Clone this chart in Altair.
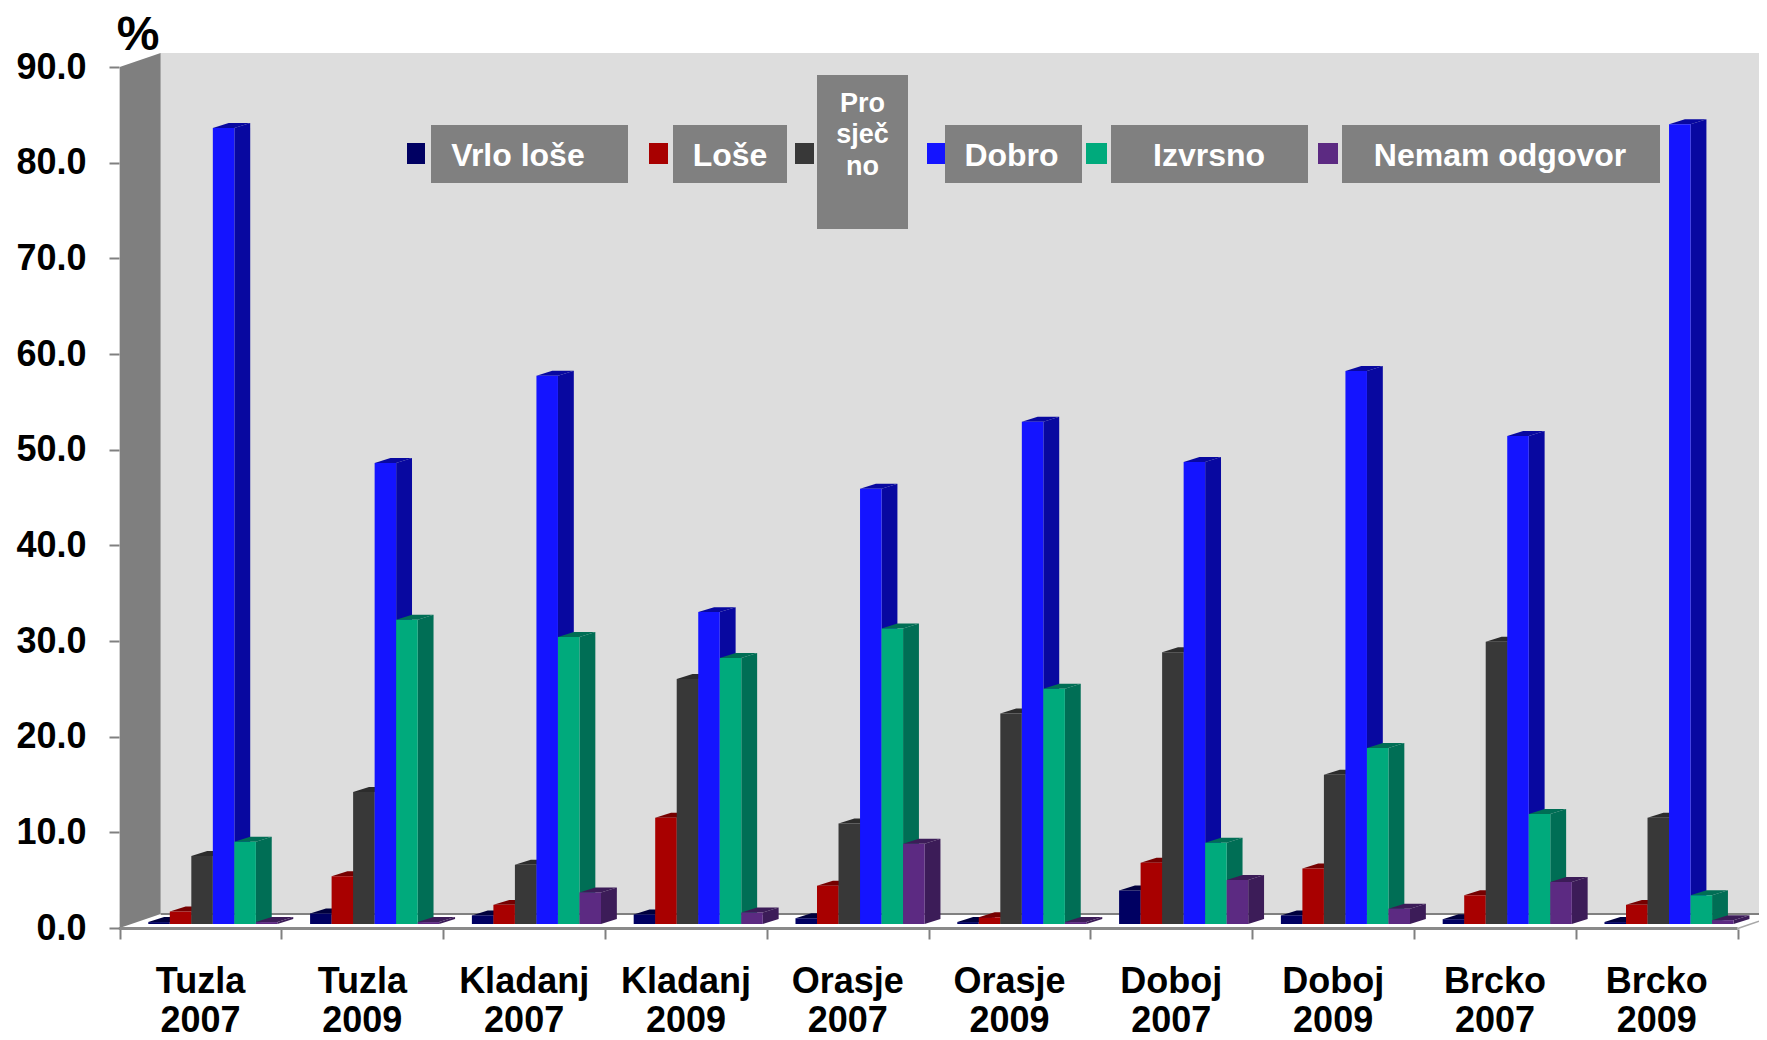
import altair as alt
import pandas as pd

# ---- chart values ----
PLACES = ["Tuzla", "Tuzla", "Kladanj", "Kladanj", "Orasje", "Orasje", "Doboj", "Doboj", "Brcko", "Brcko"]
YEARS = ["2007", "2009", "2007", "2009", "2007", "2009", "2007", "2009", "2007", "2009"]
SERIES = ["Vrlo loše", "Loše", "Prosječno", "Dobro", "Izvrsno", "Nemam odgovor"]

vrlo_lose = [0.2, 1.1, 0.9, 1.0, 0.6, 0.2, 3.5, 0.9, 0.5, 0.2]
lose = [1.3, 5.0, 2.0, 11.1, 4.0, 0.7, 6.4, 5.8, 3.0, 2.0]
prosjecno = [7.1, 13.8, 6.2, 25.6, 10.5, 22.0, 28.4, 15.6, 29.5, 11.1]
dobro = [83.2, 48.2, 57.3, 32.6, 45.5, 52.5, 48.3, 57.8, 51.0, 83.6]
izvrsno = [8.6, 31.8, 30.0, 27.8, 30.9, 24.6, 8.5, 18.4, 11.5, 3.0]
nemam = [0.2, 0.2, 3.3, 1.2, 8.4, 0.2, 4.6, 1.6, 4.4, 0.4]
VALUES = [vrlo_lose, lose, prosjecno, dobro, izvrsno, nemam]

Y_TICKS = [0, 10, 20, 30, 40, 50, 60, 70, 80, 90]
X_TICKS = list(range(11))

# ---- styles ----
FRONT = ["#000062", "#A80000", "#383838", "#1414FF", "#00AA7C", "#5C2A82"]
SIDE = ["#00003E", "#760000", "#2C2C2C", "#0808A0", "#006E55", "#3C1C58"]
GRAY = "#808080"
WALL = "#DDDDDD"
FONT = "Liberation Sans"

# ---- layout (x in group units, y in value units) ----
X_DOM = [-0.69, 10.132]
Y_DOM = [-11.707, 96.17]
W, H = 1751, 1032
OFFS, BAR_W, DEPTH_X, DEPTH_Y, BASE = 0.177, 0.133, 0.098, 0.52, 0.42
WALL_X, WALL_Y = 0.2534, 1.46


def px(v):
    return v - 8


front, side, top = [], [], []
for s, vals in enumerate(VALUES):
    for g, v in enumerate(vals):
        x0 = g + OFFS + s * BAR_W
        x1 = x0 + BAR_W
        y0 = BASE
        y1 = BASE + v
        bar = f"{g}-{s}"
        front.append(dict(x=x0, x2=x1, y=y1, y2=y0, fill=FRONT[s]))
        side += [
            dict(bar=bar, x=x1, y=y1, y2=y0, fill=SIDE[s]),
            dict(bar=bar, x=x1 + DEPTH_X, y=y1 + DEPTH_Y, y2=y0 + DEPTH_Y, fill=SIDE[s]),
        ]
        top += [
            dict(bar=bar, x=x0, y=y1, y2=y1, fill=SIDE[s]),
            dict(bar=bar, x=x0 + DEPTH_X, y=y1 + DEPTH_Y, y2=y1, fill=SIDE[s]),
            dict(bar=bar, x=x1, y=y1 + DEPTH_Y, y2=y1, fill=SIDE[s]),
            dict(bar=bar, x=x1 + DEPTH_X, y=y1 + DEPTH_Y, y2=y1 + DEPTH_Y, fill=SIDE[s]),
        ]

xs = alt.Scale(domain=X_DOM, nice=False, zero=False)
ys = alt.Scale(domain=Y_DOM, nice=False, zero=False)
X = alt.X("x:Q", scale=xs, title=None,
          axis=alt.Axis(values=X_TICKS, labels=False, domain=False, grid=False, tickSize=10,
                        tickWidth=2, tickColor=GRAY, offset=-111))
Y = alt.Y("y:Q", scale=ys, title=None, stack=None,
          axis=alt.Axis(values=Y_TICKS, format=".1f", domain=False, grid=False, tickSize=10,
                        tickWidth=2, tickColor=GRAY, offset=-111, labelPadding=23,
                        labelFont=FONT, labelFontSize=36, labelFontWeight="bold", labelColor="#000000"))
FILL = alt.Color("fill:N", scale=None, legend=None)

back_wall = alt.Chart(pd.DataFrame([dict(x=WALL_X, x2=X_DOM[1], y=90 + WALL_Y, y2=WALL_Y)])).mark_rect(color=WALL).encode(
    x=X, x2="x2:Q", y=Y, y2="y2:Q")
left_wall = alt.Chart(pd.DataFrame([
    dict(x=0, y=90, y2=0),
    dict(x=WALL_X, y=90 + WALL_Y, y2=WALL_Y),
])).mark_area(color="#7F7F7F", orient="vertical").encode(x=X, y=Y, y2="y2:Q")

back_line = alt.Chart(pd.DataFrame([dict(x=WALL_X, x2=X_DOM[1], y=WALL_Y)])).mark_rule(color=GRAY, strokeWidth=2).encode(
    x=X, x2="x2:Q", y=Y)
base_line = alt.Chart(pd.DataFrame([dict(x=-0.005, x2=10.0, y=-0.05)])).mark_rule(color="#8A8A8A", strokeWidth=3).encode(
    x=X, x2="x2:Q", y=Y)
corner_line = alt.Chart(pd.DataFrame([dict(x=10.0, y=-0.05), dict(x=X_DOM[1], y=0.7)])).mark_line(
    color="#A8A8A8", strokeWidth=1.5).encode(x=X, y=Y)

sides = alt.Chart(pd.DataFrame(side)).mark_area(orient="vertical").encode(x=X, y=Y, y2="y2:Q", color=FILL, detail="bar:N")
tops = alt.Chart(pd.DataFrame(top)).mark_area(orient="vertical").encode(x=X, y=Y, y2="y2:Q", color=FILL, detail="bar:N")
fronts = alt.Chart(pd.DataFrame(front)).mark_rect().encode(x=X, x2="x2:Q", y=Y, y2="y2:Q", color=FILL)

PIX_X = alt.X("px:Q", scale=None)
PIX_Y = alt.Y("py:Q", scale=None)
PIX_X2 = alt.X2("px2:Q")
PIX_Y2 = alt.Y2("py2:Q")

# legend layout, in page pixels
BOXES = [(431, 628, 125, 183), (673, 787, 125, 183), (817, 908, 75, 229),
         (945, 1082, 125, 183), (1111, 1308, 125, 183), (1342, 1660, 125, 183)]
SWATCHES = [(407, 425), (649, 668), (795, 814), (927, 945), (1086, 1107), (1318, 1338)]
TEXT_C = [518, 730, 862.5, 1011.5, 1209, 1500]

box_df = pd.DataFrame([dict(px=px(a), px2=px(b), py=px(c), py2=px(d)) for a, b, c, d in BOXES])
boxes = alt.Chart(box_df).mark_rect(color=GRAY).encode(x=PIX_X, x2=PIX_X2, y=PIX_Y, y2=PIX_Y2)
sw_df = pd.DataFrame([dict(px=px(a), px2=px(b), py=px(143), py2=px(164), fill=FRONT[i])
                      for i, (a, b) in enumerate(SWATCHES)])
swatches = alt.Chart(sw_df).mark_rect().encode(x=PIX_X, x2=PIX_X2, y=PIX_Y, y2=PIX_Y2, color=FILL)

leg_rows = []
for i, name in enumerate(SERIES):
    if name == "Prosječno":
        continue
    leg_rows.append(dict(px=px(TEXT_C[i]), py=px(166), t=name))
leg_text = alt.Chart(pd.DataFrame(leg_rows)).mark_text(
    font=FONT, fontSize=32, fontWeight="bold", color="#FFFFFF", align="center", baseline="alphabetic"
).encode(x=PIX_X, y=PIX_Y, text="t:N")

pro_rows = [dict(px=px(TEXT_C[2]), py=px(b), t=t) for t, b in zip(["Pro", "sječ", "no"], [112, 143, 175])]
pro_text = alt.Chart(pd.DataFrame(pro_rows)).mark_text(
    font=FONT, fontSize=27, fontWeight="bold", color="#FFFFFF", align="center", baseline="alphabetic"
).encode(x=PIX_X, y=PIX_Y, text="t:N")

cat_rows = []
for g, (p, yr) in enumerate(zip(PLACES, YEARS)):
    cat_rows.append(dict(x=g + 0.5, py=px(993), t=p))
    cat_rows.append(dict(x=g + 0.5, py=px(1032), t=yr))
cat_text = alt.Chart(pd.DataFrame(cat_rows)).mark_text(
    font=FONT, fontSize=36, fontWeight="bold", color="#000000", align="center", baseline="alphabetic"
).encode(x=alt.X("x:Q", scale=xs), y=PIX_Y, text="t:N")

pct = alt.Chart(pd.DataFrame([dict(px=px(138), py=px(50), t="%")])).mark_text(
    font=FONT, fontSize=48, fontWeight="bold", color="#000000", align="center", baseline="alphabetic"
).encode(x=PIX_X, y=PIX_Y, text="t:N")

chart = alt.layer(
    back_wall, left_wall, back_line, base_line, corner_line,
    sides, tops, fronts,
    boxes, swatches, leg_text, pro_text, cat_text, pct,
).properties(
    width=W, height=H, padding=0, background="#FFFFFF",
    autosize=alt.AutoSizeParams(type="none"),
).configure_view(stroke=None)

chart.save("out.html", embed_options={"renderer": "svg", "actions": False})
